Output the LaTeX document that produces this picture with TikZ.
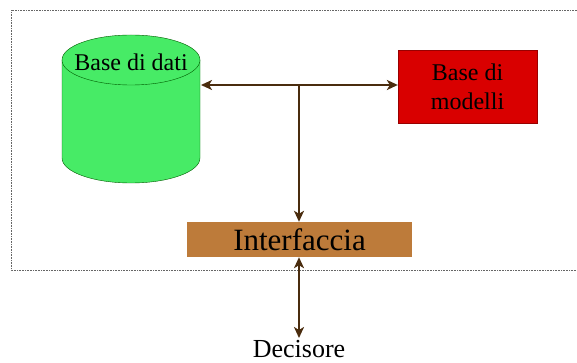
\documentclass[tikz,border=0pt]{standalone}
\usepackage{fontspec}
\setmainfont{Liberation Serif}
\usetikzlibrary{arrows.meta}
\definecolor{dbgreen}{HTML}{47EB66}
\definecolor{mred}{HTML}{D90000}
\definecolor{ifor}{HTML}{BD7B3A}
\definecolor{arr}{HTML}{4A2C0E}
\tikzset{
  conn/.style={draw=arr, line width=2pt, {Stealth[length=11pt,width=10pt,inset=3pt]}-{Stealth[length=11pt,width=10pt,inset=3pt]}},
  conn1/.style={draw=arr, line width=2pt, -{Stealth[length=11pt,width=10pt,inset=3pt]}},
  frame/.style={draw=black!60, densely dotted, line width=0.6pt},
}
\begin{document}
\begin{tikzpicture}[x=1pt,y=-1pt]
\useasboundingbox (0,0) rectangle (577,363);
% frame
\draw[frame] (577,10) -- (11,10) -- (11,270) -- (577,270);
% cylinder
\fill[dbgreen] (62,60) -- (62,158) arc[start angle=180,end angle=360,x radius=69,y radius=-25] -- (200,60) -- cycle;
\draw[draw=black!40!green!60!black, line width=0.4pt] (62,60) -- (62,158) arc[start angle=180,end angle=360,x radius=69,y radius=-25] -- (200,60);
\filldraw[fill=dbgreen, draw=black!40!green!60!black, line width=0.4pt] (131,60) ellipse[x radius=69, y radius=25];
\node[font=\fontsize{24}{28}\selectfont, inner sep=0pt] (db) at (131,62) {Base di dati};
\coordinate (dbR) at (201,85);
% models
\node[fill=mred, draw=mred!70!black, line width=0.3pt, minimum width=139pt, minimum height=73pt, align=center, inner sep=0pt, font=\fontsize{24}{29}\selectfont] (mod) at (467.5,86.5) {Base di\\modelli};
% junction
\coordinate (j) at (299,85);
\draw[conn] (dbR) -- (mod.west |- j);
% interface
\node[fill=ifor, minimum width=225pt, minimum height=35pt, inner sep=0pt, font=\fontsize{31}{34}\selectfont] (int) at (299.5,239.5) {Interfaccia};
\draw[conn1] (j) -- (j |- int.north);
% decisore
\node[font=\fontsize{26}{30}\selectfont, inner sep=0pt, anchor=base] (dec) at (299,357.5) {Decisore};
\coordinate (decT) at (299,338);
\draw[conn] (int.south -| j) -- (decT);
\end{tikzpicture}
\end{document}
